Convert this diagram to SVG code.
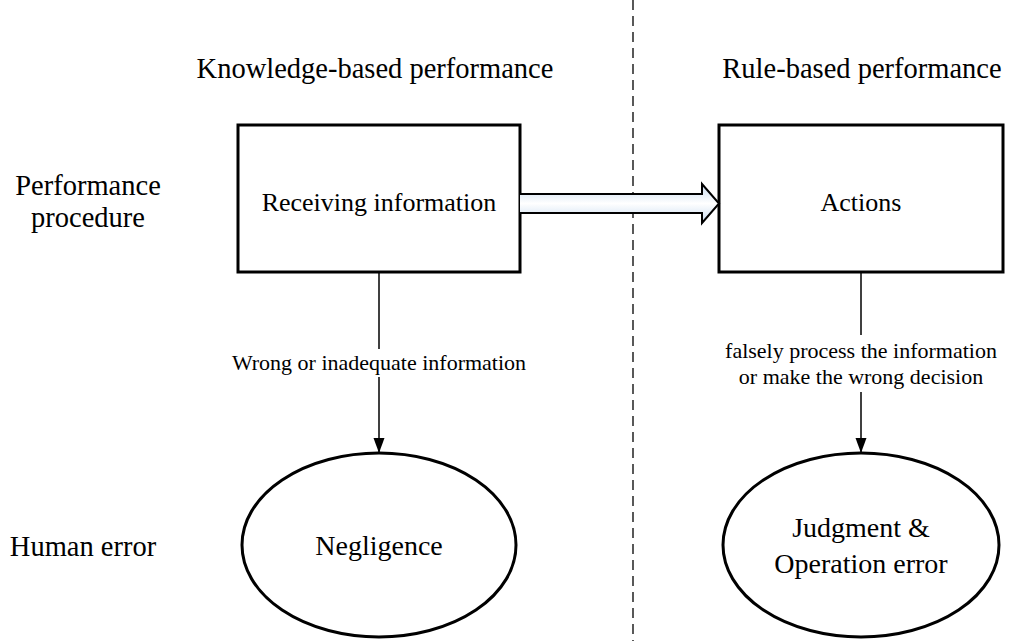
<svg xmlns="http://www.w3.org/2000/svg" width="1011" height="641" viewBox="0 0 1011 641">
<defs>
<linearGradient id="arrowFill" x1="0" y1="0" x2="0" y2="1">
<stop offset="0" stop-color="#c9dcf0"/>
<stop offset="0.5" stop-color="#ffffff"/>
<stop offset="1" stop-color="#c9dcf0"/>
</linearGradient>
<marker id="ah" markerWidth="16" markerHeight="12" refX="15" refY="6" orient="auto" markerUnits="userSpaceOnUse" viewBox="0 0 16 12">
<path d="M0,0.5 L15,6 L0,11.5 Z" fill="#000"/>
</marker>
<style>
text { font-family: "Liberation Serif", "Times New Roman", serif; fill: #000; }
.head { font-size: 28.5px; }
.side { font-size: 28.5px; }
.node { font-size: 26px; }
.ellt { font-size: 28px; }
.lbl { font-size: 22px; }
.box { fill: #fff; stroke: #000; stroke-width: 3; }
.ell { fill: #fff; stroke: #000; stroke-width: 3; }
.conn { stroke: #000; stroke-width: 1.5; fill: none; }
</style>
</defs>
<rect width="1011" height="641" fill="#fff"/>
<line x1="633" y1="0" x2="633" y2="641" stroke="#000" stroke-width="1.3" stroke-dasharray="10,6"/>
<text class="head" x="375" y="78" text-anchor="middle">Knowledge-based performance</text>
<text class="head" x="862" y="78" text-anchor="middle">Rule-based performance</text>
<text class="side" x="88" y="195" text-anchor="middle">Performance</text>
<text class="side" x="88" y="227" text-anchor="middle">procedure</text>
<text class="side" x="83" y="556" text-anchor="middle">Human error</text>
<g id="node-receiving">
<rect class="box" x="238" y="125" width="282" height="147"/>
<text class="node" x="379" y="211" text-anchor="middle">Receiving information</text>
</g>
<g id="node-actions">
<rect class="box" x="719" y="125" width="284" height="147"/>
<text class="node" x="861" y="211" text-anchor="middle">Actions</text>
</g>
<g id="node-negligence">
<ellipse class="ell" cx="379" cy="545" rx="137" ry="92"/>
<text class="ellt" x="379" y="555" text-anchor="middle">Negligence</text>
</g>
<g id="node-judgment">
<ellipse class="ell" cx="861" cy="545" rx="138" ry="92"/>
<text class="ellt" x="861" y="537" text-anchor="middle">Judgment &amp;</text>
<text class="ellt" x="861" y="573" text-anchor="middle">Operation error</text>
</g>
<g id="connectors">
<path d="M520,194 H702 V184 L719,203.5 L702,223 V213 H520" fill="url(#arrowFill)" stroke="#000" stroke-width="2"/>
<line class="conn" x1="379" y1="272" x2="379" y2="349"/>
<line class="conn" x1="379" y1="377" x2="379" y2="453" marker-end="url(#ah)"/>
<text class="lbl" x="379" y="370" text-anchor="middle">Wrong or inadequate information</text>
<line class="conn" x1="861" y1="272" x2="861" y2="335"/>
<line class="conn" x1="861" y1="392" x2="861" y2="453" marker-end="url(#ah)"/>
<text class="lbl" x="861" y="358" text-anchor="middle">falsely process the information</text>
<text class="lbl" x="861" y="384" text-anchor="middle">or make the wrong decision</text>
</g>
</svg>
